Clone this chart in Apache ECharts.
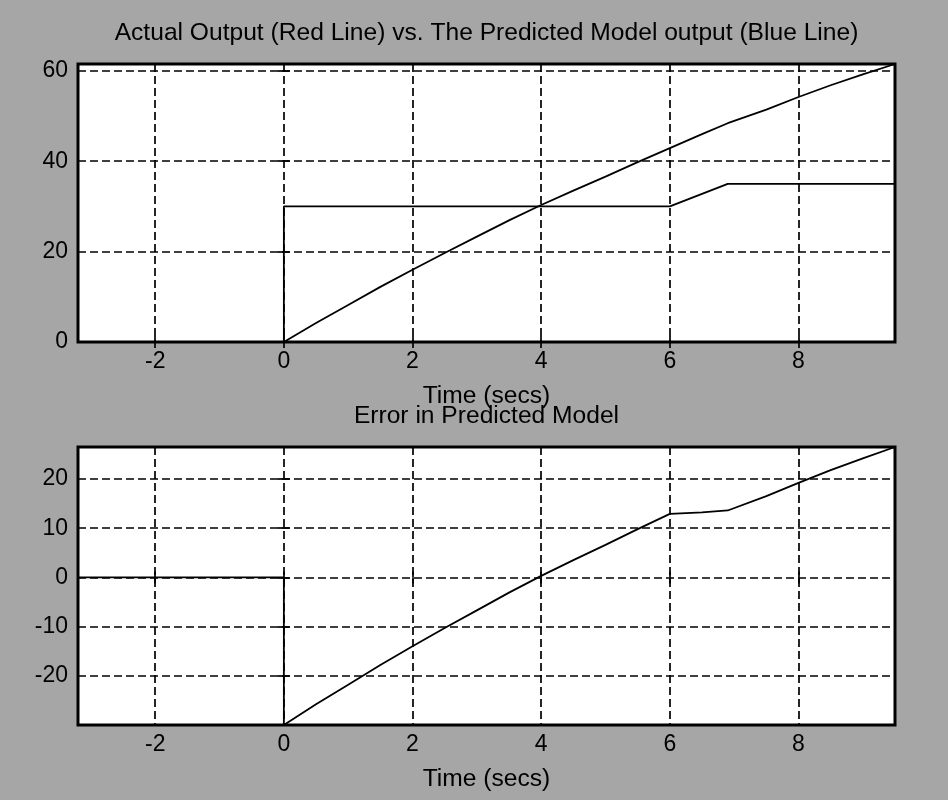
<!DOCTYPE html>
<html>
<head>
<meta charset="utf-8">
<title>Actual vs Predicted Model Output</title>
<script src="https://cdn.jsdelivr.net/npm/echarts@6/dist/echarts.min.js"></script>
<style>
  html, body { margin: 0; padding: 0; background: #a6a6a6; }
  #chart { width: 948px; height: 800px; }
</style>
</head>
<body>
<div id="chart"></div>
<script>
// ---- data ----
const xTicks = [-2, 0, 2, 4, 6, 8];
const xRange = [-3.2, 9.5];

const topYTicks = [0, 20, 40, 60];
const topYRange = [0, 61.5];
const bottomYTicks = [-20, -10, 0, 10, 20];
const bottomYRange = [-30, 26.5];

// Actual output: zero, step to 30 at t = 0, ramp to 35 after t = 6
const actualTime   = [-3.2, 0, 0, 6, 6.9, 9.5];
const actualOutput = [0, 0, 30, 30, 35, 35];

// Predicted model output
const predTime   = [-3.2, 0, 0.5, 1, 1.5, 2, 2.5, 3, 3.5, 4, 4.5, 5, 5.5, 6, 6.5, 6.9, 7.5, 8, 8.5, 9, 9.5];
const predOutput = [0, 0, 4.2, 8.2, 12.2, 16.0, 19.7, 23.3, 26.9, 30.3, 33.5, 36.6, 39.8, 42.9, 46.0, 48.4, 51.4, 54.2, 56.8, 59.2, 61.5];

// Error in predicted model
const errTime   = [-3.2, 0, 0, 0.5, 1, 1.5, 2, 2.5, 3, 3.5, 4, 4.5, 5, 5.5, 6, 6.5, 6.9, 7.5, 8, 8.5, 9, 9.5];
const errValues = [0, 0, -30, -25.8, -21.8, -17.8, -14.0, -10.3, -6.7, -3.1, 0.3, 3.5, 6.6, 9.8, 12.9, 13.2, 13.6, 16.5, 19.2, 21.8, 24.2, 26.5];

const titles = [
  'Actual Output (Red Line) vs. The Predicted Model output (Blue Line)',
  'Error in Predicted Model'
];
const xName = 'Time (secs)';

// ---- layout ----
const W = 948;
const plotLeft = 78, plotRight = 53, plotHeight = 278;
const gridTops = [64, 447];
const FONT = 'Liberation Sans, Arial, sans-serif';
const TICK_FS = 23;
const TEXT_FS = 24.6;
const ink = '#000';

const pair = (xs, ys) => xs.map((x, i) => [x, ys[i]]);

const grids = gridTops.map(top => ({
  left: plotLeft, right: plotRight, top: top, height: plotHeight,
  show: true, backgroundColor: '#fff', borderColor: ink, borderWidth: 3
}));

const dashed = { show: true, lineStyle: { color: ink, width: 1.7, type: [8, 4] } };
const tickStyle = { color: ink, width: 1.7 };

function xAxes(gridIndex) {
  return [
    {
      type: 'value', gridIndex, position: 'bottom', min: xRange[0], max: xRange[1],
      axisLine: { show: false },
      axisTick: { show: true, inside: true, length: 6, customValues: xTicks, lineStyle: tickStyle },
      axisLabel: { customValues: xTicks, color: ink, fontFamily: FONT, fontSize: TICK_FS, margin: 8 },
      splitLine: dashed,
      name: xName, nameLocation: 'middle', nameGap: 42,
      nameTextStyle: { color: ink, fontFamily: FONT, fontSize: TEXT_FS }
    },
    {
      type: 'value', gridIndex, position: 'top', min: xRange[0], max: xRange[1],
      axisLine: { show: false },
      axisTick: { show: true, inside: true, length: 6, customValues: xTicks, lineStyle: tickStyle },
      axisLabel: { show: false },
      splitLine: { show: false }
    }
  ];
}

function yAxes(gridIndex, range, ticks) {
  return [
    {
      type: 'value', gridIndex, position: 'left', min: range[0], max: range[1],
      axisLine: { show: false },
      axisTick: { show: true, inside: true, length: 6, customValues: ticks, lineStyle: tickStyle },
      axisLabel: { customValues: ticks, color: ink, fontFamily: FONT, fontSize: TICK_FS, margin: 10 },
      splitLine: dashed
    },
    {
      type: 'value', gridIndex, position: 'right', min: range[0], max: range[1],
      axisLine: { show: false },
      axisTick: { show: true, inside: true, length: 6, customValues: ticks, lineStyle: tickStyle },
      axisLabel: { show: false },
      splitLine: { show: false }
    }
  ];
}

const lineSeries = (name, data, xi, yi) => ({
  name, type: 'line', data, xAxisIndex: xi, yAxisIndex: yi,
  showSymbol: false, symbol: 'none', z: 5,
  lineStyle: { color: ink, width: 1.8 }
});

const plotCenterX = plotLeft + (W - plotLeft - plotRight) / 2;

const option = {
  animation: false,
  backgroundColor: '#a6a6a6',
  grid: grids,
  xAxis: [...xAxes(0), ...xAxes(1)],
  yAxis: [...yAxes(0, topYRange, topYTicks), ...yAxes(1, bottomYRange, bottomYTicks)],
  graphic: titles.map((t, i) => ({
    type: 'text', x: plotCenterX, y: gridTops[i] - 31,
    style: { text: t, fill: ink, font: TEXT_FS + 'px ' + FONT, textAlign: 'center', textVerticalAlign: 'middle' }
  })),
  series: [
    lineSeries('Actual Output', pair(actualTime, actualOutput), 0, 0),
    lineSeries('Predicted Model', pair(predTime, predOutput), 0, 0),
    lineSeries('Error', pair(errTime, errValues), 2, 2)
  ]
};

const chart = echarts.init(document.getElementById('chart'), null, { renderer: 'canvas' });
chart.setOption(option);
</script>
</body>
</html>
